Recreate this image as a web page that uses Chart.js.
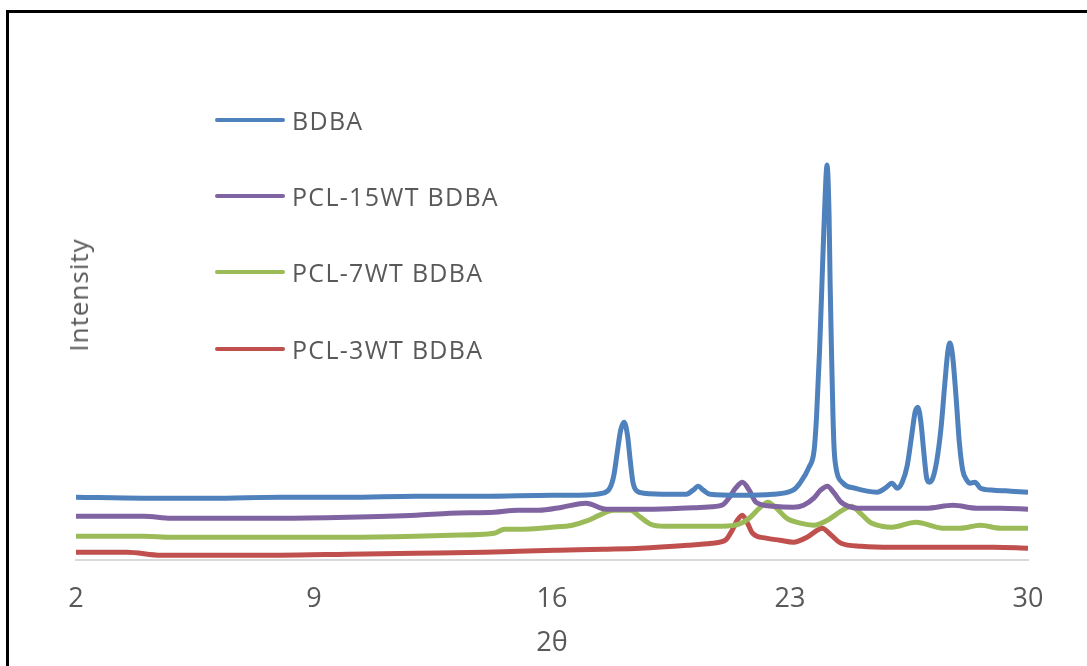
<!DOCTYPE html>
<html lang="en">
  <head>
    <meta charset="UTF-8" />
    <title>XRD patterns</title>
    <script src="https://cdnjs.cloudflare.com/ajax/libs/Chart.js/4.4.1/chart.umd.min.js"></script>
    <style>
      html,
      body {
        margin: 0;
        padding: 0;
        background: #ffffff;
        overflow: hidden;
      }

      .page {
        position: relative;
        width: 1087px;
        height: 666px;
        overflow: hidden;
        font-family: "Open Sans", "DejaVu Sans", sans-serif;
        color: #595959;
      }

      .frame {
        position: absolute;
        left: 6px;
        top: 10px;
        width: 1120px;
        height: 700px;
        border: 3px solid #000000;
        box-sizing: border-box;
      }

      .chart-wrapper {
        position: absolute;
        left: 0;
        top: 0;
        width: 1087px;
        height: 666px;
      }

      .y-title {
        position: absolute;
        left: 78px;
        top: 295px;
        transform: translate(-50%, -50%) rotate(-90deg);
        font-size: 26px;
        letter-spacing: 1px;
        white-space: nowrap;
      }

      .legend {
        position: absolute;
        left: 215px;
        top: 0;
      }

      .legend-item {
        position: absolute;
        left: 0;
        display: flex;
        align-items: center;
        white-space: nowrap;
        transform: translateY(-50%);
      }

      .legend-item .swatch {
        width: 70px;
        height: 4px;
        border-radius: 2px;
        margin-right: 7px;
      }

      .legend-item .label {
        font-size: 25px;
        letter-spacing: 1.3px;
      }
    </style>
  </head>
  <body>
    <div class="page">
      <div class="frame"></div>
      <div class="chart-wrapper">
        <canvas id="xrdChart"></canvas>
      </div>
      <div class="y-title">Intensity</div>
      <div class="legend" id="legend"></div>
    </div>

    <script>
      // tick labels on the 2θ axis
      const xTicks = [2, 9, 16, 23, 30];

      const seriesNames = ["BDBA", "PCL-15WT BDBA", "PCL-7WT BDBA", "PCL-3WT BDBA"];
      const seriesColors = ["#4f81bd", "#8064a2", "#9bbb59", "#c0504d"];

      // BDBA
      const bdbaX = [2, 4, 6, 8, 10, 12, 14, 16, 16.8, 17.5, 17.7, 17.82, 17.92, 18.02, 18.12, 18.22, 18.3,
        18.38, 18.5, 18.7, 19.5, 19.95, 20.15, 20.3, 20.45, 20.65, 21.5, 22.5, 23.09, 23.29, 23.56, 23.71,
        23.78, 23.87, 23.94, 24.01, 24.09, 24.15, 24.18, 24.22, 24.265, 24.3, 24.35, 24.56, 24.9, 25.56,
        25.8, 26.0, 26.15, 26.3, 26.45, 26.58, 26.68, 26.76, 26.85, 26.93, 27.02, 27.1, 27.2, 27.32, 27.45,
        27.55, 27.64, 27.7, 27.78, 27.88, 27.98, 28.08, 28.2, 28.3, 28.44, 28.6, 29.0, 29.5, 30];
      const bdbaY = [63, 62, 62, 63, 63, 64, 64, 65, 65, 67, 72, 85, 108, 130, 138, 125, 100,
        78, 69, 67, 66, 66, 70, 74, 70, 66, 65, 66, 70, 77, 93, 110,
        143, 210, 277, 343, 395, 343, 277, 210, 143, 110, 93, 77, 72, 68,
        72, 77, 72, 78, 95, 125, 148, 153, 138, 110, 82, 78, 82, 100, 135,
        175, 208, 217, 205, 165, 118, 90, 80, 77, 78, 72, 70, 69, 68];

      // PCL-15WT BDBA
      const pcl15X = [2, 4, 4.8, 6, 8, 10, 12, 13, 14.3, 15, 15.6, 16.3, 17.0, 17.6, 19, 20.5, 21.0, 21.2,
        21.4, 21.6, 21.8, 22.0, 22.5, 23.1, 23.4, 23.7, 23.9, 24.1, 24.3, 24.5, 24.7, 25, 26, 27, 27.8, 28.5,
        29.2, 30];
      const pcl15Y = [44, 44, 42, 42, 42, 43, 45, 47, 48, 50, 50, 53, 57, 51, 51, 53, 55, 62,
        72, 78, 70, 58, 54, 53, 55, 62, 70, 74, 67, 58, 54, 52, 52, 52, 55, 52,
        52, 51];

      // PCL-7WT BDBA
      const pcl7X = [2, 4, 4.8, 6, 8, 10, 12, 13, 14.3, 14.6, 15, 16, 16.6, 17.0, 17.4, 17.8, 18.0, 18.3,
        18.6, 18.9, 19.3, 20, 21, 21.5, 21.8, 22.1, 22.35, 22.6, 22.9, 23.3, 23.7, 24.1, 24.5, 24.8, 25.1,
        25.35, 25.7, 26.0, 26.7, 27.5, 28.0, 28.6, 29.2, 30];
      const pcl7Y = [24, 24, 23, 23, 23, 23, 24, 25, 27, 31, 31, 33, 35, 39, 45, 50, 50, 50,
        43, 36, 34, 34, 34, 36, 42, 52, 58, 52, 42, 37, 35, 40, 49, 54, 46,
        38, 34, 33, 38, 32, 32, 35, 32, 32];

      // PCL-3WT BDBA
      const pcl3X = [2, 3.5, 4.5, 6, 8, 10, 12, 14, 15, 16.2, 17.5, 18.6, 20, 20.7, 21.1, 21.3, 21.45, 21.6,
        21.75, 21.9, 22.3, 22.7, 23.1, 23.5, 23.8, 23.95, 24.15, 24.5, 25.1, 26, 27, 28, 29, 30];
      const pcl3Y = [8, 8, 5, 5, 5, 6, 7, 8, 9, 10, 11, 12, 15, 17, 20, 30, 40, 45,
        37, 27, 22, 20, 18, 23, 30, 32, 27, 17, 14, 13, 13, 13, 13, 12];

      const seriesX = [bdbaX, pcl15X, pcl7X, pcl3X];
      const seriesY = [bdbaY, pcl15Y, pcl7Y, pcl3Y];

      function toPoints(xs, ys) {
        return xs.map((x, i) => ({ x: x, y: ys[i] }));
      }

      const datasets = seriesNames.map((name, i) => ({
        label: name,
        data: toPoints(seriesX[i], seriesY[i]),
        borderColor: seriesColors[i],
        borderWidth: 5,
        pointRadius: 0,
        cubicInterpolationMode: "monotone",
        fill: false,
        clip: false,
      }));

      // legend drawn next to the traces, top to bottom
      const legendTops = [120, 196, 272, 349];
      const legendEl = document.getElementById("legend");
      seriesNames.forEach((name, i) => {
        const item = document.createElement("div");
        item.className = "legend-item";
        item.style.top = legendTops[i] + "px";
        item.innerHTML =
          '<span class="swatch" style="background:' + seriesColors[i] + '"></span>' +
          '<span class="label">' + name + "</span>";
        legendEl.appendChild(item);
      });

      const ctx = document.getElementById("xrdChart").getContext("2d");
      new Chart(ctx, {
        type: "line",
        data: { datasets: datasets },
        options: {
          responsive: true,
          maintainAspectRatio: false,
          animation: false,
          layout: {
            padding: { left: 76, right: 59, top: 40, bottom: 6 },
          },
          plugins: {
            legend: { display: false },
            tooltip: { enabled: false },
          },
          scales: {
            x: {
              type: "linear",
              min: 2,
              max: 30,
              afterBuildTicks: (axis) => {
                axis.ticks = xTicks.map((v) => ({ value: v }));
              },
              grid: { display: false, drawTicks: false },
              border: { display: true, color: "#d9d9d9", width: 2 },
              ticks: {
                padding: 23,
                color: "#595959",
                font: { family: "'Open Sans', sans-serif", size: 27 },
              },
              title: {
                display: true,
                text: "2θ",
                color: "#595959",
                padding: { top: -11, bottom: 0 },
                font: { family: "'Open Sans', sans-serif", size: 27 },
              },
            },
            y: {
              display: false,
              min: 0,
              max: 520,
            },
          },
        },
      });
    </script>
  </body>
</html>
